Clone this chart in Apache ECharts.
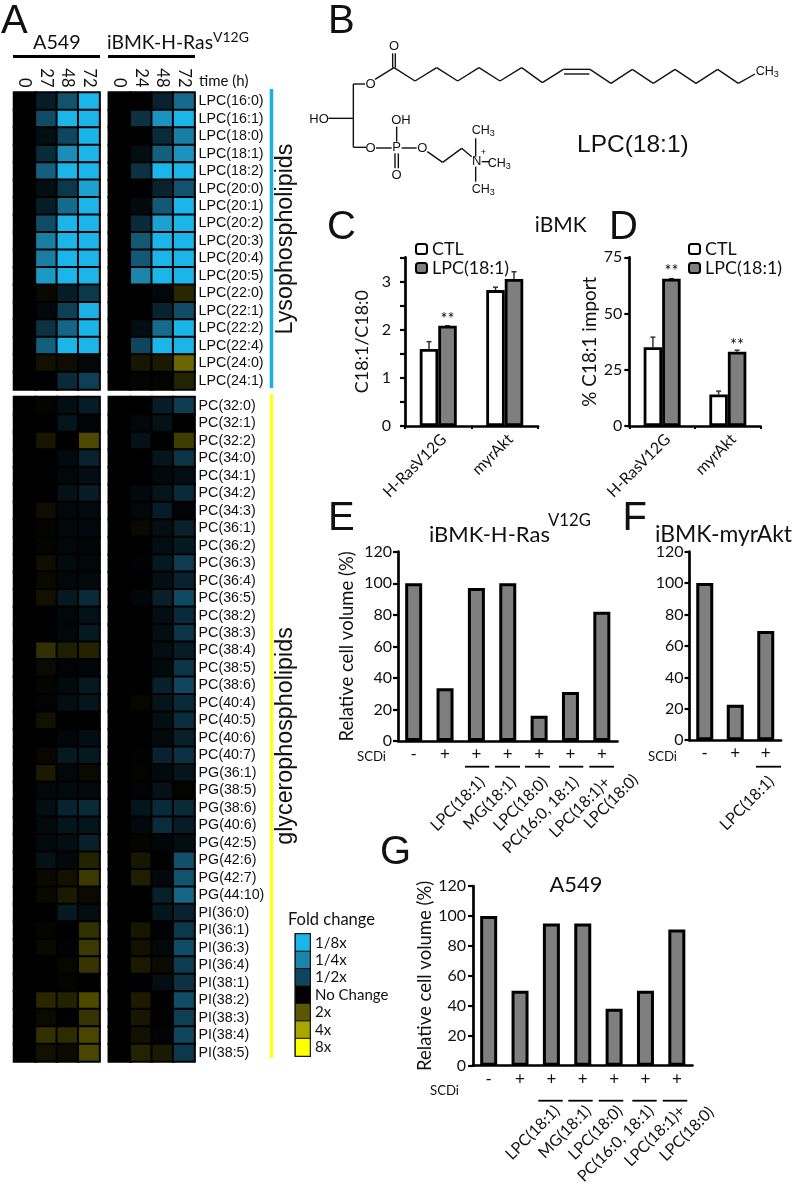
<!DOCTYPE html>
<html><head><meta charset="utf-8">
<style>html,body{margin:0;padding:0;background:#fff}#c{width:793px;height:1187px}</style>
<script src="https://cdn.jsdelivr.net/npm/echarts@6/dist/echarts.min.js"></script></head>
<body><div id="c"></div>
<script>
// ---- data ----
const lysoLabels=['LPC(16:0)','LPC(16:1)','LPC(18:0)','LPC(18:1)','LPC(18:2)','LPC(20:0)','LPC(20:1)','LPC(20:2)','LPC(20:3)','LPC(20:4)','LPC(20:5)','LPC(22:0)','LPC(22:1)','LPC(22:2)','LPC(22:4)','LPC(24:0)','LPC(24:1)'];
const glycLabels=['PC(32:0)','PC(32:1)','PC(32:2)','PC(34:0)','PC(34:1)','PC(34:2)','PC(34:3)','PC(36:1)','PC(36:2)','PC(36:3)','PC(36:4)','PC(36:5)','PC(38:2)','PC(38:3)','PC(38:4)','PC(38:5)','PC(38:6)','PC(40:4)','PC(40:5)','PC(40:6)','PC(40:7)','PG(36:1)','PG(38:5)','PG(38:6)','PG(40:6)','PG(42:5)','PG(42:6)','PG(42:7)','PG(44:10)','PI(36:0)','PI(36:1)','PI(36:3)','PI(36:4)','PI(38:1)','PI(38:2)','PI(38:3)','PI(38:4)','PI(38:5)'];
const a549Times=['0','27','48','72'];
const ibmkTimes=['0','24','48','72'];
const a549Lyso=[[0,-.4,-1.2,-3],[0,-1.1,-3,-3],[0,-.2,-1,-3],[0,-.6,-2.2,-3],[0,-1.4,-3,-3],[0,-.2,-.8,-2.6],[0,-.4,-1.6,-3],[0,-1.1,-3,-3],[0,-1.9,-3,-3],[0,-1.9,-3,-3],[0,-2.4,-3,-3],[0,.1,-.4,-.8],[0,-.1,-.9,-2.9],[0,-.7,-1.5,-3],[0,-1.4,-3,-3],[0,.2,.15,-.1],[0,0,-.6,-.9]];
const ibmkLyso=[[0,0,-.5,-1.6],[0,-.7,-2.3,-3],[0,0,-.6,-1.9],[0,-.2,-1.4,-2.3],[0,-.7,-3,-3],[0,0,-.5,-1.2],[0,-.15,-1.3,-3],[0,-.6,-2.6,-3],[0,-1.3,-3,-3],[0,-1.3,-3,-3],[0,-2,-3,-3],[0,0,-.1,.45],[0,0,-.5,-1.1],[0,-.2,-1.6,-3],[0,-1,-3,-3],[0,.25,.3,1.2],[0,.05,.03,.4]];
const a549Glyc=[[0,.05,-.2,-.4],[0,0,-.3,-.05],[0,.25,0,.85],[0,0,-.15,-.5],[0,0,-.1,-.2],[0,0,-.25,-.4],[0,.15,-.1,-.15],[0,.03,-.12,-.12],[0,.05,-.1,-.08],[0,.15,-.15,-.1],[0,.1,-.1,-.15],[0,.2,-.35,-.6],[0,0,-.1,-.25],[0,0,-.1,-.35],[0,.55,.35,.4],[0,.12,-.05,-.08],[0,.05,-.15,-.35],[0,-.05,-.2,-.3],[0,.2,0,0],[0,0,-.08,-.2],[0,.08,-.35,-.35],[0,.3,-.1,.12],[0,-.1,-.15,-.15],[0,-.2,-.5,-.6],[0,-.15,-.3,-.3],[0,-.15,-.2,-.45],[0,-.25,-.12,.4],[0,.1,.2,.65],[0,.1,.3,.12],[0,0,-.35,-.2],[0,.06,0,.55],[0,.1,-.03,.65],[0,0,.08,.6],[0,0,.05,0],[0,.45,.4,.85],[0,.12,-.02,.6],[0,.55,.5,.8],[0,.2,.12,.8]];
const ibmkGlyc=[[0,0,-.4,-.85],[0,-.1,-.25,0],[0,-.25,0,.7],[0,0,-.3,-.75],[0,0,-.12,-.2],[0,-.12,-.3,-.6],[0,-.1,-.4,-.05],[0,.1,-.2,-.45],[0,0,-.2,-.35],[0,-.03,-.35,-.85],[0,0,-.2,-.5],[0,-.08,-.45,-1.05],[0,0,-.2,-.6],[0,0,-.2,-.75],[0,0,-.2,-.4],[0,0,-.15,-.75],[0,0,-.45,-1],[0,.08,-.3,-.6],[0,0,-.2,-.65],[0,0,-.15,-.45],[0,-.03,-.5,-.7],[0,.03,-.15,-.3],[0,-.05,-.25,.03],[0,-.3,-.6,-.6],[0,-.12,-.65,-.4],[0,.06,-.08,-.2],[0,.25,0,-1.15],[0,.35,-.12,-1.2],[0,0,-.45,-1.5],[0,0,-.3,-.5],[0,.25,-.03,-.8],[0,.2,-.1,-1.1],[0,.3,.12,-.85],[0,-.02,-.2,-.7],[0,.3,0,-1.1],[0,.25,0,-.9],[0,.2,-.05,-1],[0,.4,.3,-.8]];
const foldLabels=['1/8x','1/4x','1/2x','No Change','2x','4x','8x'];
const foldLevels=[-3,-2,-1,0,1,2,3];
const foldColors=['#1cb5ea','#1b84ab','#0f465e','#000000','#5a5700','#a9a600','#ffff00'];

const importCats=['H-RasV12G','myrAkt'];
const cCtl=[1.6,2.82], cLpc=[2.08,3.05], cCtlTop=[1.75,2.88], cLpcTop=[2.08,3.2], cStars=['**',''];
const dCtl=[35,14], dLpc=[65.5,33], dCtlTop=[39.5,15.5], dLpcTop=[65.5,33.7], dStars=['**','**'];
const scdiSigns=['-','+','+','+','+','+','+'];
const rescueNames=['','','LPC(18:1)','MG(18:1)','LPC(18:0)','PC(16:0, 18:1)','LPC(18:1)+'];
const eValues=[100,33.5,97,100,16,31,82];
const gValues=[100,50,95,95,38,50,91];
const fSigns=['-','+','+'];
const fNames=['','','LPC(18:1)'];
const fValues=[100,22.5,69.5];

// LPC(18:1) structure, as bonds and atom labels in the panel's own units
const moleculeBonds=[[190,252,225,252],[255,238,312,203],[308,160,308,203],[316,160,316,203],[312,203,375,243],[375,243,440,203],[440,203,503,243],[503,243,567,203],[567,203,630,243],[630,243,695,203],[695,203,757,248],[757,248,820,208],[820,208,900,208],[822,222,898,222],[900,208,963,250],[963,250,1027,208],[1027,208,1090,250],[1090,250,1155,208],[1155,208,1218,250],[1218,250,1283,208],[1283,208,1345,250],[1345,250,1395,222],[190,252,190,442],[115,355,190,355],[190,442,228,442],[258,444,305,444],[320,380,320,425],[315,460,315,505],[325,460,325,505],[335,444,380,444],[412,455,458,487],[458,487,515,445],[515,445,545,470],[557,415,557,470],[575,485,600,485],[557,500,557,545]];
const moleculeAtoms=[['O',312,138],['O',242,252],['HO',87,357],['O',242,444],['P',320,442],['OH',333,362],['O',320,525],['O',397,444],['N',560,485],['+',580,458]];
const moleculeMethyls=[[1432,215],[580,392],[628,490],[580,568]];

// ---- helpers ----
const LAT='Lato', ARI='"Liberation Sans"', INK='#111';
const T=(x,y,text,size,fam,o={})=>({type:'text',x,y,rotation:o.rot||0,silent:true,style:{text,font:`${o.w||'normal'} ${size}px ${fam}`,fill:o.fill||INK,align:o.align||'left',verticalAlign:'middle',rich:o.rich}});
const L=(x1,y1,x2,y2,w=2,c='#000')=>({type:'line',silent:true,shape:{x1,y1,x2,y2},style:{stroke:c,lineWidth:w}});
const mx=x=>290+x/3, my=y=>y/3;

const grids=[],xAxes=[],yAxes=[],series=[];
function heat(left,top,width,height,rows,cols,vals,showRows,showCols){
  const i=grids.length;
  grids.push({left,top,width,height,show:true,backgroundColor:'#000',borderColor:'#222',borderWidth:1});
  xAxes.push({gridIndex:i,type:'category',data:cols,position:'top',show:showCols,axisLine:{show:false},axisTick:{show:false},splitLine:{show:false},
    axisLabel:{rotate:90,fontFamily:LAT,fontSize:16.5,color:INK,margin:5,interval:0,padding:[0,0,4,0]}});
  yAxes.push({gridIndex:i,type:'category',data:rows,inverse:true,position:'right',show:showRows,axisLine:{show:false},axisTick:{show:false},splitLine:{show:false},
    axisLabel:{fontFamily:ARI,fontSize:14.25,color:INK,margin:4,interval:0}});
  const d=[];vals.forEach((r,y)=>r.forEach((v,x)=>d.push([x,y,v])));
  series.push({type:'heatmap',xAxisIndex:i,yAxisIndex:i,data:d,itemStyle:{borderColor:'#000',borderWidth:2},emphasis:{disabled:true},label:{show:false}});
}
const axisLine={show:true,lineStyle:{color:'#000',width:2.7}};
function yVal(i,max,interval,name,gap,showEvery,margin,nameSize){
  return {gridIndex:i,type:'value',min:0,max,interval,axisLine,axisTick:{show:true,length:5,lineStyle:{color:'#000',width:2.2}},splitLine:{show:false},
    axisLabel:{fontFamily:LAT,fontSize:16,color:INK,margin,showMinLabel:true,showMaxLabel:true,formatter:v=>(showEvery&&v%showEvery!==0)?'':String(v)},
    name,nameLocation:'middle',nameGap:gap,nameTextStyle:{fontFamily:LAT,fontSize:nameSize,color:INK}};
}
function grouped(left,top,width,height,max,interval,every,yName,gap,margin,nameSize,ctl,lpc,ctlTop,lpcTop,stars){
  const i=grids.length;
  grids.push({left,top,width,height});
  xAxes.push({gridIndex:i,type:'category',data:importCats,axisLine,axisTick:{show:true,length:3,lineStyle:{color:'#000',width:2}},
    axisLabel:{rotate:45,fontFamily:LAT,fontSize:15.8,color:INK,margin:5,interval:0,verticalAlign:'top'}});
  yAxes.push(yVal(i,max,interval,yName,gap,every,margin,nameSize));
  const barStyle=c=>({color:c,borderColor:'#000',borderWidth:2.8});
  series.push({name:'CTL',type:'bar',xAxisIndex:i,yAxisIndex:i,data:ctl,barWidth:18.5,barGap:'0%',itemStyle:barStyle('#fff')});
  series.push({name:'LPC(18:1)',type:'bar',xAxisIndex:i,yAxisIndex:i,data:lpc,barWidth:18.5,barGap:'0%',itemStyle:barStyle('#7f7f7f'),
    label:{show:true,position:'top',distance:-2,fontFamily:LAT,fontSize:16.5,color:INK,formatter:p=>stars[p.dataIndex]}});
  const side=[['CTL',ctl,ctlTop,-1],['LPC(18:1)',lpc,lpcTop,1]];
  side.forEach(([n,base,top,s])=>series.push({type:'custom',xAxisIndex:i,yAxisIndex:i,silent:true,clip:false,z:1,
    data:base.map((b,k)=>[k,b,top[k]]),
    renderItem:(p,api)=>{
      const a=api.coord([api.value(0),api.value(1)]),b=api.coord([api.value(0),api.value(2)]);
      const x=a[0]+s*9.25;
      return {type:'group',children:[
        {type:'line',shape:{x1:x,y1:a[1],x2:x,y2:b[1]},style:{stroke:'#333',lineWidth:1.5}},
        {type:'line',shape:{x1:x-2.5,y1:b[1],x2:x+2.5,y2:b[1]},style:{stroke:'#333',lineWidth:1.5}}]};
    }}));
}
function rescue(left,top,width,height,signs,names,values,yName,gap,margin,labelOffset){
  const i=grids.length;
  grids.push({left,top,width,height});
  xAxes.push({gridIndex:i,type:'category',data:signs,axisLine,axisTick:{show:false},axisLabel:{fontFamily:LAT,fontSize:17,color:INK,margin:5,interval:0}});
  xAxes.push({gridIndex:i,type:'category',data:names,position:'bottom',offset:labelOffset,axisLine:{show:false},axisTick:{show:false},
    axisLabel:{rotate:45,fontFamily:LAT,fontSize:16,color:INK,margin:0,interval:0,verticalAlign:'top'}});
  yAxes.push(yVal(i,120,20,yName,gap,0,margin,18.5));
  series.push({type:'bar',xAxisIndex:xAxes.length-2,yAxisIndex:i,data:values,barWidth:17,itemStyle:{color:'#7f7f7f',borderColor:'#000',borderWidth:3}});
}

// heatmaps
heat(14,92.5,85.6,297,lysoLabels,a549Times,a549Lyso,false,true);
heat(108.8,92.5,85.8,297,lysoLabels,ibmkTimes,ibmkLyso,true,true);
heat(14,397,85.6,664.5,glycLabels,a549Times,a549Glyc,false,false);
heat(108.8,397,85.8,664.5,glycLabels,ibmkTimes,ibmkGlyc,true,false);
// fold-change key
(function(){
  const i=grids.length;
  grids.push({left:295.5,top:934,width:14.5,height:122,show:true,backgroundColor:'#000',borderColor:'#111',borderWidth:2});
  xAxes.push({gridIndex:i,type:'category',data:['k'],show:false});
  yAxes.push({gridIndex:i,type:'category',data:foldLabels,inverse:true,position:'right',axisLine:{show:false},axisTick:{show:false},splitLine:{show:false},
    axisLabel:{fontFamily:LAT,fontSize:15,color:INK,margin:5,interval:0}});
  series.push({type:'heatmap',xAxisIndex:i,yAxisIndex:i,data:foldLevels.map((v,y)=>[0,y,v]),itemStyle:{borderColor:'#111',borderWidth:1},emphasis:{disabled:true}});
})();
const heatIdx=series.map((s,k)=>k);
// C, D
grouped(405,257.3,133,168.7,3.5,0.5,1,'C18:1/C18:0',34,14,17.9,cCtl,cLpc,cCtlTop,cLpcTop,cStars);
grouped(629.3,257.3,131.4,168.7,75,25,0,'% C18:1 import',30,7,18.9,dCtl,dLpc,dCtlTop,dLpcTop,dStars);
// E, F, G
rescue(398,551.7,219.5,189.3,scdiSigns,rescueNames,eValues,'Relative cell volume (%)',41.5,6,33);
rescue(689.5,551.7,91.5,188.5,fSigns,fNames,fValues,'',0,6,33);
rescue(473,886,219.5,189,scdiSigns,rescueNames,gValues,'Relative cell volume (%)',36.5,7,37);

// annotations
const g=[];
[['A',1,22],['B',328,22],['C',327,228],['D',609,228],['E',328,519],['F',622.5,519],['G',380,853]].forEach(([t,x,y])=>g.push(T(x,y,t,40,ARI)));
g.push(T(33,43,'A549',19.8,LAT),L(13,56.5,100,56.5,3));
g.push(T(107,43,'iBMK-H-Ras',19.3,LAT),T(213,37,'V12G',14,LAT),L(108,56.5,195,56.5,3));
g.push(T(199,81,'time (h)',15,LAT));
g.push(L(271.5,89,271.5,388,3.5,'#1cb0e4'),L(271.5,394,271.5,1058,3.5,'#ffff20'));
g.push(T(285.5,239,'Lysophospholipids',23.3,ARI,{rot:Math.PI/2,align:'center'}));
g.push(T(285.5,736,'glycerophospholipids',23.3,ARI,{rot:Math.PI/2,align:'center'}));
g.push(T(288,920,'Fold change',16.5,LAT));
// structure
moleculeBonds.forEach(b=>g.push(L(mx(b[0]),my(b[1]),mx(b[2]),my(b[3]),1.4,'#111')));
moleculeAtoms.forEach(([t,x,y])=>g.push(T(mx(x),my(y),t,t==='+'?9:13,ARI,{align:'center'})));
moleculeMethyls.forEach(([x,y])=>g.push({type:'text',x:mx(x),y:my(y),silent:true,style:{text:'{a|CH}{b|3}',align:'center',verticalAlign:'middle',rich:{a:{font:`12.5px ${ARI}`,fill:INK},b:{font:`9px ${ARI}`,fill:INK,verticalAlign:'bottom',padding:[6,0,0,0]}}}}));
g.push(T(577,145,'LPC(18:1)',24.5,ARI));
// titles
g.push(T(560.7,225,'iBMK',21,LAT,{align:'center'}));
g.push(T(429,535,'iBMK-H-Ras',22,LAT),T(548,521,'V12G',16.7,LAT));
g.push(T(655,535,'iBMK-myrAkt',22.9,LAT));
g.push(T(576,885,'A549',21.9,LAT,{align:'center'}));
// SCDi rows and treatment rules
g.push(T(357,757,'SCDi',13.2,LAT),T(648,757,'SCDi',13.2,LAT),T(430,1091,'SCDi',13.2,LAT));
[[465,489.3],[495,520],[525,550],[559,583.3],[589.3,614],[756,781]].forEach(([a,b])=>g.push(L(a,766.7,b,766.7,1.8)));
[[538.3,562.7],[568.3,592.7],[598.7,623.3],[632.3,656.7],[662.7,687.3]].forEach(([a,b])=>g.push(L(a,1100.7,b,1100.7,1.8)));
// second line of the combined treatment label
g.push(T(611,801.5,'LPC(18:0)',16,LAT,{rot:Math.PI/4,align:'center'}));
g.push(T(686.7,1134,'LPC(18:0)',16,LAT,{rot:Math.PI/4,align:'center'}));

const legendOf=(left)=>({left,top:240,padding:0,orient:'vertical',itemWidth:11,itemHeight:10,itemGap:1,data:['CTL','LPC(18:1)'],selectedMode:false,
  textStyle:{fontFamily:LAT,fontSize:17.9,color:INK}});
const chart=echarts.init(document.getElementById('c'),null,{renderer:'canvas'});
chart.setOption({animation:false,backgroundColor:'#fff',tooltip:{show:false},
  legend:[legendOf(415),legendOf(688)],
  visualMap:{show:false,seriesIndex:heatIdx,dimension:2,min:-3,max:3,inRange:{color:foldColors}},
  grid:grids,xAxis:xAxes,yAxis:yAxes,series,graphic:{elements:g}});
</script></body></html>
